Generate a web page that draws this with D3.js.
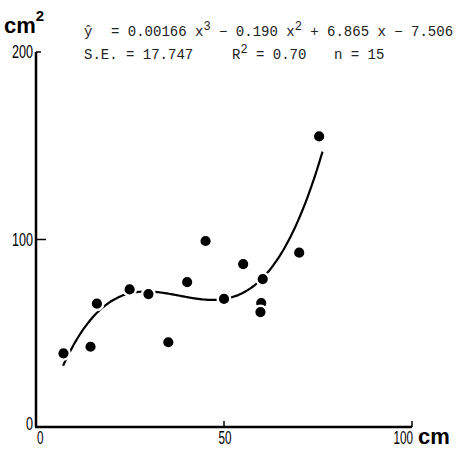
<!DOCTYPE html>
<html>
<head>
<meta charset="utf-8">
<script src="https://cdn.jsdelivr.net/npm/d3@7"></script>
<style>
  body { margin: 0; background: #fff; }
  .tick { font-family: "Liberation Sans Narrow", "Liberation Sans", sans-serif; font-size: 18px; }
  .unit { font-family: "Liberation Sans", Arial, sans-serif; font-weight: bold; font-size: 22px; }
  .eq { font-family: "Liberation Mono", "DejaVu Sans Mono", monospace; font-size: 14px; fill: #222; }
</style>
</head>
<body>
<div id="chart"></div>
<script>
// scatter of leaf area vs length with cubic fit

var width = 460,
    height = 450;

// data
var lengthCm = [7.3, 14.5, 16.2, 24.9, 29.9, 35.2, 40.2, 45.1, 50.0, 55.1, 60.3, 59.9, 59.7, 70.0, 75.3];
var areaCm2  = [39.3, 42.8, 65.8, 73.4, 70.9, 45.2, 77.3, 99.2, 68.3, 86.9, 78.9, 66.1, 61.3, 93.0, 155];

// fitted cubic printed on the chart: a3, a2, a1, a0
var fitCoef = [0.00166, -0.190, 6.865, -7.506];
var fitRange = [7.2, 76.2];

var xTicks = [0, 50, 100];
var yTicks = [0, 100, 200];

var svg = d3.select("#chart").append("svg")
    .attr("width", width)
    .attr("height", height);

var x = d3.scaleLinear().domain([0, 100]).range([36, 412]);
var y = d3.scaleLinear().domain([0, 200]).range([427, 52]);

// axes lines
svg.append("line")
    .attr("x1", x(0)).attr("x2", x(0))
    .attr("y1", y(200)).attr("y2", y(0))
    .attr("stroke", "#000").attr("stroke-width", 2.5);
svg.append("line")
    .attr("x1", x(0) - 1).attr("x2", x(100))
    .attr("y1", y(0)).attr("y2", y(0))
    .attr("stroke", "#000").attr("stroke-width", 2.5);

// y ticks (inward)
svg.selectAll(".ytk")
    .data(yTicks.filter(function(d) { return d > 0; }))
    .enter().append("line")
    .attr("x1", x(0)).attr("x2", function(d) { return d == 200 ? x(0) + 5 : x(0) + 10; })
    .attr("y1", function(d) { return y(d); })
    .attr("y2", function(d) { return y(d); })
    .attr("stroke", "#000").attr("stroke-width", 1.5);

// condensed tick labels
svg.selectAll(".ylab")
    .data(yTicks)
    .enter().append("text")
    .attr("class", "tick")
    .attr("transform", function(d) {
      var ty = d == 0 ? y(d) + 3 : y(d) + 6;
      return "translate(" + (x(0) - 3) + "," + ty + ") scale(0.7,1.05)";
    })
    .attr("text-anchor", "end")
    .text(function(d) { return d; });

// x ticks (upward)
svg.selectAll(".xtk")
    .data(xTicks.filter(function(d) { return d > 0; }))
    .enter().append("line")
    .attr("x1", function(d) { return x(d); })
    .attr("x2", function(d) { return x(d); })
    .attr("y1", y(0)).attr("y2", y(0) - 6)
    .attr("stroke", "#000").attr("stroke-width", 1.5);

svg.selectAll(".xlab")
    .data(xTicks)
    .enter().append("text")
    .attr("class", "tick")
    .attr("transform", function(d) {
      return "translate(" + (x(d) + 1) + ",444) scale(0.65,1.05)";
    })
    .attr("text-anchor", function(d) { return d == 0 ? "start" : d == 100 ? "end" : "middle"; })
    .text(function(d) { return d; });

// units
var u1 = svg.append("text").attr("class", "unit").attr("x", 4).attr("y", 33);
u1.append("tspan").text("cm");
u1.append("tspan").attr("font-size", 15).attr("dy", -12).text("2");

svg.append("text").attr("class", "unit").attr("x", 418).attr("y", 444).text("cm");

// fitted curve
function fit(v) {
  return fitCoef[0] * v * v * v + fitCoef[1] * v * v + fitCoef[2] * v + fitCoef[3];
}
var curveX = d3.range(fitRange[0], fitRange[1], 0.5).concat([fitRange[1]]);
var line = d3.line()
    .x(function(d) { return x(d); })
    .y(function(d) { return y(fit(d)); })
    .curve(d3.curveBasis);

svg.append("path")
    .datum(curveX)
    .attr("d", line)
    .attr("fill", "none")
    .attr("stroke", "#000")
    .attr("stroke-width", 2.2);

// points (white rim breaks the curve like the original)
svg.selectAll("circle")
    .data(lengthCm)
    .enter().append("circle")
    .attr("cx", function(d) { return x(d); })
    .attr("cy", function(d, i) { return y(areaCm2[i]); })
    .attr("r", 6.3)
    .attr("fill", "#000")
    .attr("stroke", "#fff")
    .attr("stroke-width", 2.4);

// equation block
var e1 = svg.append("text").attr("class", "eq").attr("y", 36);
e1.append("tspan").attr("x", 84).text("ŷ");
e1.append("tspan").attr("x", 111).text("= 0.00166 x");
e1.append("tspan").attr("dy", -6).attr("font-size", 12).text("3");
e1.append("tspan").attr("dy", 6).text(" − 0.190 x");
e1.append("tspan").attr("dy", -6).attr("font-size", 12).text("2");
e1.append("tspan").attr("dy", 6).text(" + 6.865 x − 7.506");

var e2 = svg.append("text").attr("class", "eq").attr("y", 59);
e2.append("tspan").attr("x", 84).text("S.E. = 17.747");
e2.append("tspan").attr("x", 232).text("R");
e2.append("tspan").attr("dy", -6).attr("font-size", 12).text("2");
e2.append("tspan").attr("dy", 6).text(" = 0.70");
e2.append("tspan").attr("x", 334).text("n = 15");
</script>
</body>
</html>
